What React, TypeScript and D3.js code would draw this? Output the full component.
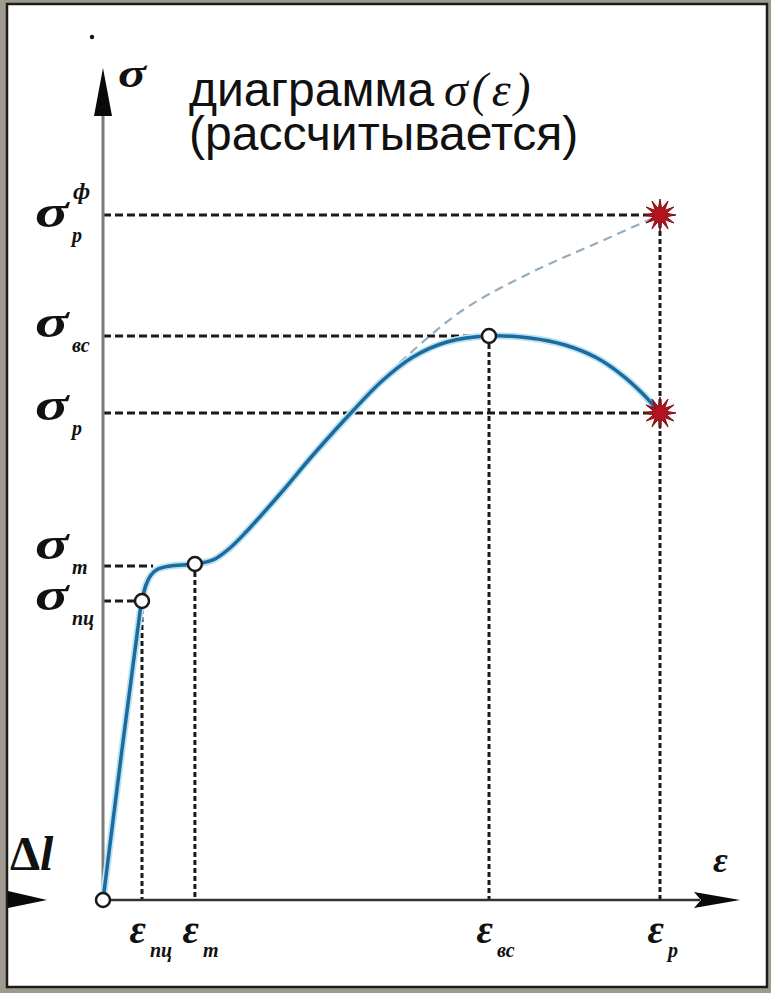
import React, { useEffect } from "react";
import * as d3 from "d3";

// ---- data (strain ε as fraction of ε_р, stress σ as fraction of σ_р^ф) ----
const curveStrain = [0, 0.0664, 0.07, 0.0772, 0.0862, 0.0987, 0.1203, 0.165, 0.1975, 0.228, 0.2585, 0.3178, 0.377, 0.4434, 0.5009, 0.5566, 0.6176, 0.693, 0.7666, 0.8294, 0.8869, 0.9318, 0.9677, 1.0];
const curveStress = [0, 0.4204, 0.4365, 0.4599, 0.4745, 0.4832, 0.4876, 0.4905, 0.4964, 0.5139, 0.5387, 0.5927, 0.6496, 0.7095, 0.7577, 0.7927, 0.8146, 0.8234, 0.8204, 0.8102, 0.7912, 0.7664, 0.7401, 0.711];

const trueStrain = [0.4937, 0.5458, 0.6463, 0.7666, 0.8869, 1.0];
const trueStress = [0.7533, 0.7942, 0.8613, 0.9153, 0.9591, 1.0];

// characteristic points
const pointNames = ["0", "пц", "т", "вс", "р", "рф"];
const pointStrain = [0, 0.07, 0.165, 0.693, 1.0, 1.0];
const pointStress = [0, 0.4365, 0.4905, 0.8234, 0.711, 1.0];
const pointKind = ["circle", "circle", "circle", "circle", "star", "star"];

// axis tick labels
const stressTickSub = ["пц", "т", "вс", "р", "р"];
const stressTickSup = ["", "", "", "", "ф"];
const stressTickValue = [0.4365, 0.4876, 0.8234, 0.711, 1.0];
const stressGuideEnd = [0.07, 0.09, 0.693, 1.0, 1.0];

const strainTickSub = ["пц", "т", "вс", "р"];
const strainTickValue = [0.07, 0.165, 0.693, 1.0];
const strainGuideTop = [0.4365, 0.4905, 0.8234, 1.0];

const titleLine1 = "диаграмма";
const titleFormula = "σ(ε)";
const titleLine2 = "(рассчитывается)";

// ---- layout (not data) ----
const W = 771;
const H = 993;
const X0 = 103;
const Y0 = 900;
const stressLabelDy = [9, -7, 1, 7, 12];

export default function App() {
  useEffect(() => {
    document.body.style.margin = "0";
  }, []);

  const x = d3.scaleLinear().domain([0, 1]).range([X0, 660]);
  const y = d3.scaleLinear().domain([0, 1]).range([Y0, 215]);

  const curvePts: [number, number][] = curveStrain.map((e, i) => [e, curveStress[i]]);
  const truePts: [number, number][] = trueStrain.map((e, i) => [e, trueStress[i]]);

  const line = d3
    .line<[number, number]>()
    .x((d) => x(d[0]))
    .y((d) => y(d[1]))
    .curve(d3.curveCatmullRom.alpha(0.5));

  const starPts: [number, number][] = d3.range(24).map((i) => [
    (i * Math.PI) / 12,
    i % 2 === 0 ? 16 : 6.5,
  ]);
  const starPath = d3.lineRadial<[number, number]>().curve(d3.curveLinearClosed)(starPts) || "";

  const serif = "'Liberation Serif', 'DejaVu Serif', serif";
  const sans = "'Liberation Sans', Arial, sans-serif";

  return (
    <svg width={W} height={H} style={{ position: "absolute", left: 0, top: 0, display: "block" }}>
      {/* frame */}
      <rect x={0} y={0} width={W} height={H} fill="#9e9b8e" />
      <rect x={7} y={4} width={760} height={983} fill="#ffffff" stroke="#1c1c1c" strokeWidth={2.5} />
      <circle cx={92} cy={37} r={2.2} fill="#111" />

      {/* horizontal guides */}
      {stressTickValue.map((v, i) => (
        <line key={"hg" + i} x1={X0} x2={x(stressGuideEnd[i])} y1={y(v)} y2={y(v)} stroke="#1a1a1a" strokeWidth={3} strokeDasharray="8,4" />
      ))}
      {/* vertical guides */}
      {strainTickValue.map((v, i) => (
        <line key={"vg" + i} x1={x(v)} x2={x(v)} y1={y(strainGuideTop[i])} y2={Y0} stroke="#1a1a1a" strokeWidth={3} strokeDasharray="5,3" />
      ))}

      {/* axes */}
      <line x1={X0} x2={X0} y1={Y0} y2={110} stroke="#7a7a7a" strokeWidth={3} />
      <path d={`M${X0},68 L${X0 + 9},116 L${X0 - 9},116 Z`} fill="#0a0a0a" />
      <line x1={X0} x2={700} y1={Y0} y2={Y0} stroke="#333" strokeWidth={2.5} />
      <path d={`M740,${Y0} L694,${Y0 - 8} L701,${Y0} L694,${Y0 + 8} Z`} fill="#0a0a0a" />
      <path d={`M8,${Y0 - 9} L47,${Y0} L8,${Y0 + 8} Z`} fill="#0a0a0a" />

      {/* extrapolated true-stress dashed curve */}
      <path d={line(truePts) || ""} fill="none" stroke="#94aebf" strokeWidth={2.2} strokeDasharray="9,6" />

      {/* main curve */}
      <path d={line(curvePts) || ""} fill="none" stroke="#b8e2f6" strokeWidth={7} strokeLinecap="round" />
      <path d={line(curvePts) || ""} fill="none" stroke="#1d6a9b" strokeWidth={3.5} strokeLinecap="round" />

      {/* points */}
      {pointNames.map((n, i) =>
        pointKind[i] === "circle" ? (
          <circle key={"p" + n} cx={x(pointStrain[i])} cy={y(pointStress[i])} r={7} fill="#fff" stroke="#1a1a1a" strokeWidth={2.5} />
        ) : (
          <path key={"p" + n} d={starPath} transform={`translate(${x(pointStrain[i])},${y(pointStress[i])})`} fill="#b3141f" stroke="#7d0c12" strokeWidth={1} />
        )
      )}

      {/* stress labels */}
      {stressTickValue.map((v, i) => {
        const by = y(v) + stressLabelDy[i];
        return (
          <g key={"sl" + i} fontFamily={serif} fontStyle="italic" fill="#111">
            <text transform={`translate(35,${by}) scale(1.35,1)`} fontSize={46} fontWeight="bold">σ</text>
            <text x={72} y={by + 15} fontSize={20} fontWeight="bold">{stressTickSub[i]}</text>
            {stressTickSup[i] && (
              <text x={73} y={by - 28} fontSize={24} fontWeight="bold">{stressTickSup[i]}</text>
            )}
          </g>
        );
      })}

      {/* strain labels */}
      {strainTickValue.map((v, i) => (
        <g key={"el" + i} fontFamily={serif} fontStyle="italic" fill="#111">
          <text x={x(v) + 4} y={943} fontSize={40} fontWeight="bold" textAnchor="end">ε</text>
          <text x={x(v) + 8} y={957} fontSize={20} fontWeight="bold">{strainTickSub[i]}</text>
        </g>
      ))}

      {/* axis names */}
      <text transform="translate(118,87) scale(1.3,1)" fontFamily={serif} fontStyle="italic" fontWeight="bold" fontSize={40} fill="#111">σ</text>
      <text x={713} y={872} fontFamily={serif} fontStyle="italic" fontWeight="bold" fontSize={36} fill="#111">ε</text>
      <text x={10} y={870} fontFamily={serif} fontWeight="bold" fontSize={48} fill="#111">
        Δ<tspan fontStyle="italic">l</tspan>
      </text>

      {/* title */}
      <text x={189} y={106} fontFamily={sans} fontSize={48} fill="#111">{titleLine1}</text>
      <text x={444} y={106} fontFamily={serif} fontStyle="italic" fontSize={48} letterSpacing={4} fill="#111">{titleFormula}</text>
      <text x={189} y={150} fontFamily={sans} fontSize={48} fill="#111">{titleLine2}</text>
    </svg>
  );
}
